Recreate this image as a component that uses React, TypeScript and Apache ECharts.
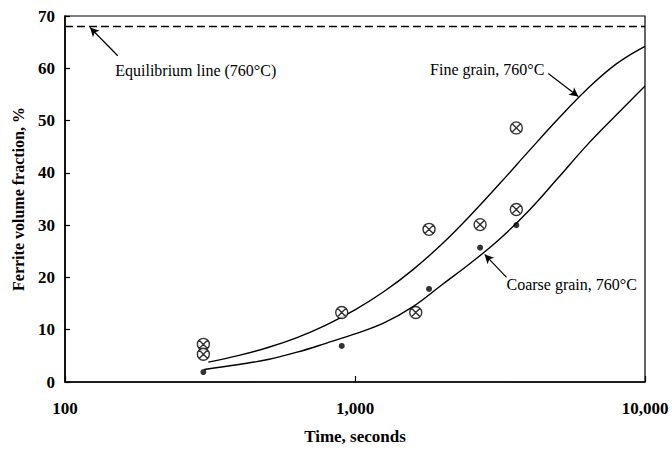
import React, { useEffect, useRef } from "react";
import * as echarts from "echarts";

// Measured ferrite fractions (%) against holding time (s)
const fineTimes = [300, 300, 900, 1620, 1800, 2700, 3600, 3600];
const fineValues = [7.2, 5.3, 13.3, 13.3, 29.2, 30.1, 48.6, 33.0];
const coarseTimes = [300, 900, 1800, 2700, 3600];
const coarseValues = [1.9, 6.9, 17.8, 25.7, 30.0];

// Model curves
const fineCurveTimes = [312, 398, 501, 631, 794, 1000, 1259, 1585, 1995, 2512, 3162, 3981, 5012, 6310, 7943, 10000];
const fineCurveValues = [3.8, 5.1, 6.6, 8.5, 10.9, 13.8, 17.3, 21.5, 26.4, 32.0, 38.0, 44.2, 50.3, 56.0, 60.8, 64.2];
const coarseCurveTimes = [302, 398, 501, 631, 794, 1000, 1259, 1585, 1995, 2512, 3162, 3981, 5012, 6310, 7943, 10000];
const coarseCurveValues = [2.4, 3.35, 4.3, 5.7, 7.4, 9.2, 11.3, 14.4, 18.6, 22.8, 27.4, 32.8, 39.0, 45.3, 51.0, 56.6];

// Equilibrium fraction at 760°C
const equilibriumTimes = [100, 10000];
const equilibriumValue = 68;

// Axis ranges
const xMin = 100;
const xMax = 10000;
const yMin = 0;
const yMax = 70;
const yStep = 10;

// Callout notes: text anchor and arrow (tail -> head), in data units
const notes = [
  { text: "Equilibrium line (760°C)", at: [149, 59.5], align: "left", from: [152, 62.4], to: [122, 67.8] },
  { text: "Fine grain, 760°C", at: [4500, 59.7], align: "right", from: [4640, 59.0], to: [5890, 54.6] },
  { text: "Coarse grain, 760°C", at: [3330, 18.6], align: "left", from: [3330, 20.0], to: [2800, 24.4] },
];

const FONT = "'Liberation Serif', 'Times New Roman', serif";
const crossCircle =
  "path://M12,2A10,10,0,1,1,12,22A10,10,0,1,1,12,2ZM5,5L19,19M19,5L5,19";

const zip = (a: number[], b: number[]) => a.map((v, i) => [v, b[i]]);

export default function App() {
  const ref = useRef<HTMLDivElement>(null);

  useEffect(() => {
    if (!ref.current) return;
    const chart = echarts.init(ref.current, null, { renderer: "svg" });

    const option: any = {
      animation: false,
      backgroundColor: "#fff",
      textStyle: { fontFamily: FONT, color: "#000" },
      grid: {
        left: 65,
        right: 27,
        top: 16,
        bottom: 67,
        show: true,
        borderColor: "#000",
        borderWidth: 1.2,
      },
      xAxis: {
        type: "log",
        logBase: 10,
        min: xMin,
        max: xMax,
        name: "Time, seconds",
        nameLocation: "middle",
        nameGap: 46,
        nameTextStyle: { fontFamily: FONT, fontSize: 17, fontWeight: "bold", color: "#000" },
        axisLine: { lineStyle: { color: "#000", width: 1.6 } },
        axisTick: { show: true, inside: true, length: 6, lineStyle: { color: "#000", width: 1.2 } },
        minorTick: { show: false },
        splitLine: { show: false },
        axisLabel: {
          margin: 18,
          fontFamily: FONT,
          fontSize: 17,
          fontWeight: "bold",
          color: "#000",
          formatter: (v: number) => Math.round(v).toLocaleString("en-US"),
        },
      },
      yAxis: {
        type: "value",
        min: yMin,
        max: yMax,
        interval: yStep,
        name: "Ferrite volume fraction, %",
        nameLocation: "middle",
        nameGap: 39,
        nameTextStyle: { fontFamily: FONT, fontSize: 16, fontWeight: "bold", color: "#000" },
        axisLine: { show: true, lineStyle: { color: "#000", width: 1.6 } },
        axisTick: { show: true, inside: true, length: 5, lineStyle: { color: "#000", width: 1.2 } },
        splitLine: { show: false },
        axisLabel: { margin: 10, fontFamily: FONT, fontSize: 17, fontWeight: "bold", color: "#000" },
      },
      series: [
        {
          name: "Equilibrium",
          type: "line",
          data: equilibriumTimes.map((t) => [t, equilibriumValue]),
          showSymbol: false,
          lineStyle: { color: "#000", width: 1.4, type: [8, 4] },
          silent: true,
        },
        {
          name: "Fine grain model",
          type: "line",
          data: zip(fineCurveTimes, fineCurveValues),
          smooth: 0.4,
          showSymbol: false,
          lineStyle: { color: "#000", width: 1.4 },
          silent: true,
        },
        {
          name: "Coarse grain model",
          type: "line",
          data: zip(coarseCurveTimes, coarseCurveValues),
          smooth: 0.4,
          showSymbol: false,
          lineStyle: { color: "#000", width: 1.4 },
          silent: true,
        },
        {
          name: "Fine grain",
          type: "scatter",
          data: zip(fineTimes, fineValues),
          symbol: crossCircle,
          symbolSize: 12,
          itemStyle: { color: "#fff", borderColor: "#000", borderWidth: 1.4 },
          z: 5,
        },
        {
          name: "Coarse grain",
          type: "scatter",
          data: zip(coarseTimes, coarseValues),
          symbol: "circle",
          symbolSize: 6,
          itemStyle: { color: "#000" },
          z: 5,
        },
        {
          name: "Callouts",
          type: "line",
          data: [],
          silent: true,
          markLine: {
            silent: true,
            symbol: ["none", "arrow"],
            symbolSize: [7, 9],
            label: { show: false },
            lineStyle: { color: "#000", width: 1.2, type: "solid" },
            data: notes.map((n) => [{ coord: n.from }, { coord: n.to }]),
          },
        },
      ],
    };

    chart.setOption(option);

    const graphic = notes.map((n) => {
      const [px, py] = chart.convertToPixel({ gridIndex: 0 }, n.at) as number[];
      return {
        type: "text",
        x: px,
        y: py,
        silent: true,
        style: {
          text: n.text,
          fill: "#000",
          font: `16px ${FONT}`,
          align: n.align,
          textAlign: n.align,
          verticalAlign: "middle",
          textVerticalAlign: "middle",
        },
      };
    });
    chart.setOption({ graphic });

    return () => chart.dispose();
  }, []);

  return (
    <div
      ref={ref}
      style={{ position: "fixed", left: 0, top: 0, width: 672, height: 450, background: "#fff" }}
    />
  );
}
